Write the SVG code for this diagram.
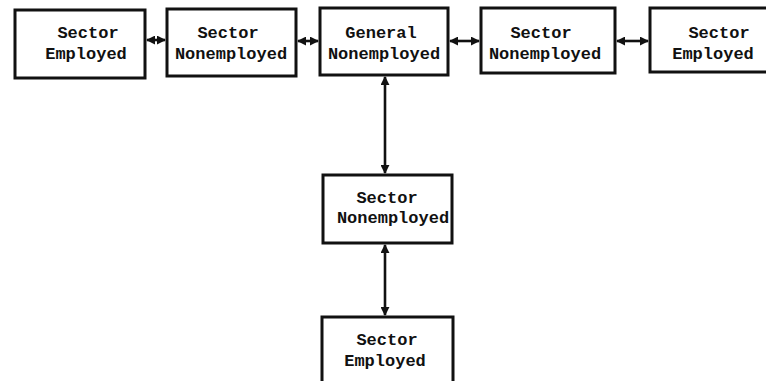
<svg xmlns="http://www.w3.org/2000/svg" width="766" height="381" viewBox="0 0 766 381">
<defs>
<style>
.box{fill:#fff;stroke:#111;stroke-width:3}
.t{font-family:"Liberation Mono","Courier New",monospace;font-weight:bold;font-size:17px;fill:#111;text-anchor:middle}
.c{stroke:#111;stroke-width:2.6;fill:none;marker-start:url(#a);marker-end:url(#a)}
</style>
<marker id="a" viewBox="0 0 10 10" refX="9" refY="5" markerWidth="9" markerHeight="9" markerUnits="userSpaceOnUse" orient="auto-start-reverse">
<path d="M0,0 L10,5 L0,10 z" fill="#111"/>
</marker>
</defs>
<rect width="766" height="381" fill="#fff"/>
<g id="connectors">
<line class="c" x1="147" y1="40" x2="165" y2="40"/>
<line class="c" x1="298" y1="41" x2="318" y2="41"/>
<line class="c" x1="450" y1="41" x2="479" y2="41"/>
<line class="c" x1="617" y1="41" x2="648" y2="41"/>
<line class="c" x1="385" y1="77" x2="385" y2="173"/>
<line class="c" x1="385" y1="245" x2="385" y2="315"/>
</g>
<g id="n1">
<rect class="box" x="15" y="10" width="130" height="68"/>
<text class="t" x="88" y="38">Sector</text>
<text class="t" x="86" y="59">Employed</text>
</g>
<g id="n2">
<rect class="box" x="167" y="9" width="129" height="67"/>
<text class="t" x="228" y="38">Sector</text>
<text class="t" x="231" y="59">Nonemployed</text>
</g>
<g id="n3">
<rect class="box" x="320" y="8" width="128" height="67"/>
<text class="t" x="381" y="38">General</text>
<text class="t" x="384" y="59">Nonemployed</text>
</g>
<g id="n4">
<rect class="box" x="481" y="8" width="134" height="65"/>
<text class="t" x="541" y="38">Sector</text>
<text class="t" x="545" y="59">Nonemployed</text>
</g>
<g id="n5">
<rect class="box" x="650" y="8" width="130" height="64"/>
<text class="t" x="719" y="38">Sector</text>
<text class="t" x="713" y="59">Employed</text>
</g>
<g id="n6">
<rect class="box" x="323" y="175" width="129" height="68"/>
<text class="t" x="387" y="203">Sector</text>
<text class="t" x="393" y="223">Nonemployed</text>
</g>
<g id="n7">
<rect class="box" x="322" y="317" width="131" height="80"/>
<text class="t" x="387" y="345">Sector</text>
<text class="t" x="385" y="366">Employed</text>
</g>
</svg>
